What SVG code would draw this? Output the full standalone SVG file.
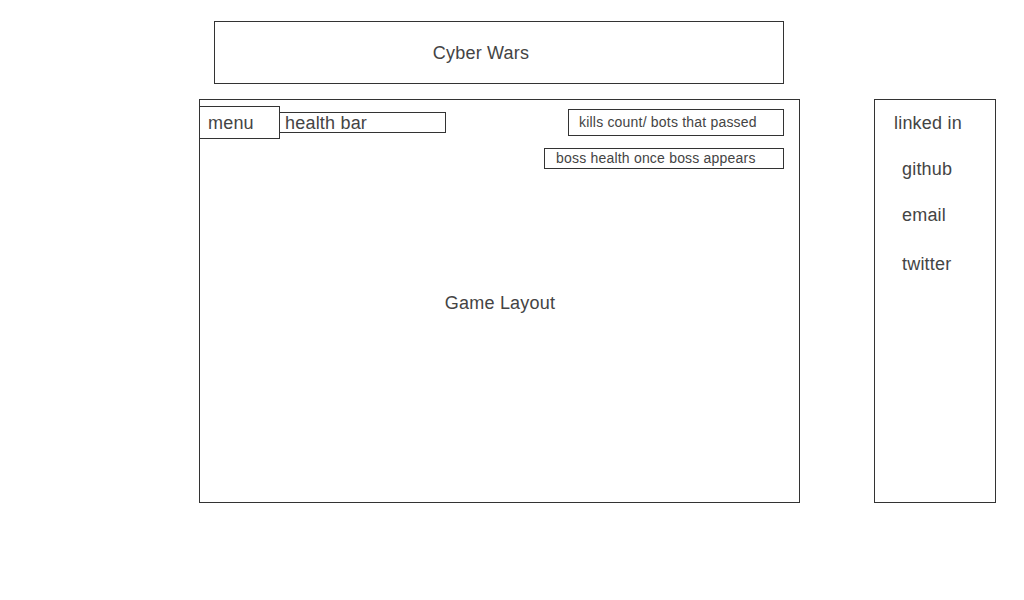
<svg xmlns="http://www.w3.org/2000/svg" width="1024" height="600" viewBox="0 0 1024 600">
<style>
rect{fill:#fff;stroke:#333;stroke-width:1}
text{font-family:"Liberation Sans",Arial,sans-serif;fill:#444;letter-spacing:0.2px}
.l{font-size:18px}
.s{font-size:14px}
</style>
<rect x="0" y="0" width="1024" height="600" style="stroke:none"/>
<g id="title"><rect x="214.5" y="21.5" width="569" height="62"/><text class="l" x="481" y="59" text-anchor="middle">Cyber Wars</text></g>
<g id="game"><rect x="199.5" y="99.5" width="600" height="403"/><text class="l" x="500" y="309" text-anchor="middle">Game Layout</text></g>
<g id="menu"><rect x="199.5" y="106.5" width="80" height="32"/><text class="l" x="208" y="129">menu</text></g>
<g id="healthbar"><rect x="279.5" y="112.5" width="166" height="20"/><text class="l" x="285" y="129">health bar</text></g>
<g id="kills"><rect x="568.5" y="109.5" width="215" height="26"/><text class="s" x="579" y="127">kills count/ bots that passed</text></g>
<g id="boss"><rect x="544.5" y="148.5" width="239" height="20"/><text class="s" x="556" y="163">boss health once boss appears</text></g>
<g id="sidebar"><rect x="874.5" y="99.5" width="121" height="403"/>
<text class="l" x="894" y="129">linked in</text>
<text class="l" x="902" y="175">github</text>
<text class="l" x="902" y="221">email</text>
<text class="l" x="902" y="270">twitter</text></g>
<g id="connectors"></g>
</svg>
